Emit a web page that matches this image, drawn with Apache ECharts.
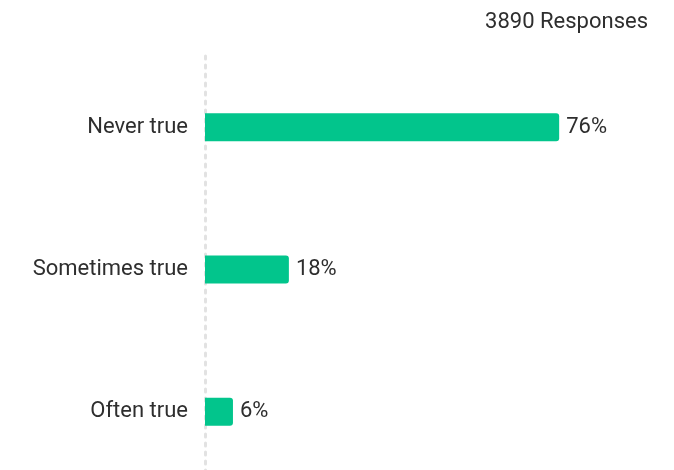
<!DOCTYPE html>
<html>
<head>
<meta charset="utf-8">
<script src="https://cdn.jsdelivr.net/npm/echarts@6/dist/echarts.min.js"></script>
<style>
  html, body { margin: 0; padding: 0; background: #fff; }
  #chart { width: 674px; height: 470px; }
</style>
</head>
<body>
<div id="chart"></div>
<script>
// Survey answer shares (percent of responses)
const categories = ['Never true', 'Sometimes true', 'Often true'];
const shares = [76, 18, 6];
const responseCount = 3890;

const chart = echarts.init(document.getElementById('chart'), null, { renderer: 'canvas' });

chart.setOption({
  animation: false,
  title: {
    text: responseCount + ' Responses',
    right: 21,
    top: 6,
    textStyle: {
      fontFamily: 'Roboto',
      fontSize: 22,
      fontWeight: 'normal',
      color: '#2e2e2e'
    }
  },
  // the category bands run past the bottom edge, so the last band is cut off
  grid: {
    left: 205,
    right: 3,
    top: 56,
    height: 427,
    containLabel: false,
    outerBoundsMode: 'none'
  },
  xAxis: {
    type: 'value',
    min: 0,
    max: 100,
    show: false
  },
  yAxis: {
    type: 'category',
    data: categories,
    inverse: true,
    axisTick: { show: false },
    axisLine: {
      show: true,
      lineStyle: { color: '#e2e2e2', width: 3, type: [3, 6] }
    },
    axisLabel: {
      margin: 17,
      fontFamily: 'Roboto',
      fontSize: 22,
      color: '#2e2e2e'
    }
  },
  series: [{
    type: 'bar',
    data: shares,
    barWidth: 28,
    itemStyle: {
      color: '#02c58c',
      borderRadius: [0, 3, 3, 0]
    },
    label: {
      show: true,
      position: 'right',
      distance: 7,
      formatter: '{c}%',
      fontFamily: 'Roboto',
      fontSize: 22,
      color: '#2e2e2e'
    }
  }]
});
</script>
</body>
</html>
